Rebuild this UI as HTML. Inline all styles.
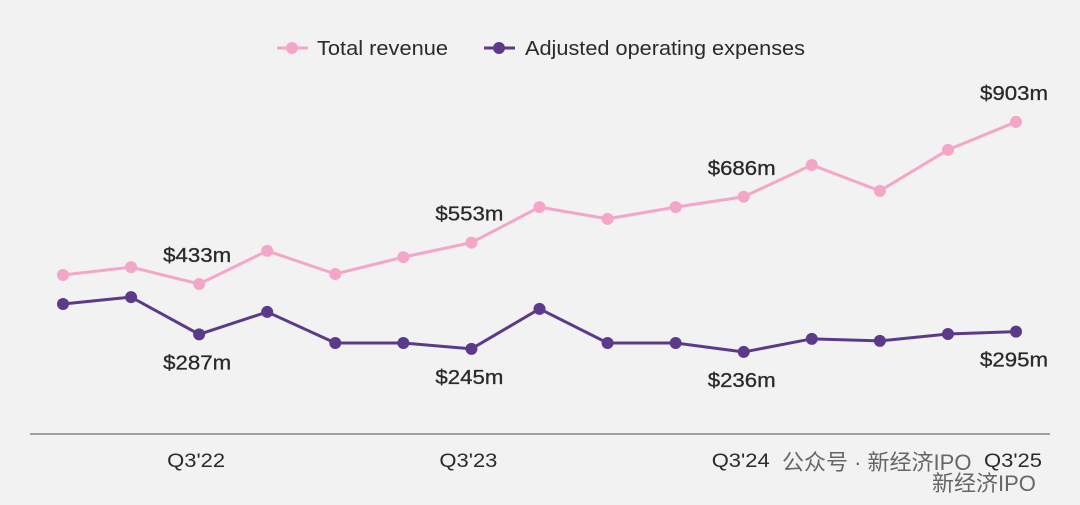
<!DOCTYPE html>
<html><head><meta charset="utf-8"><style>
body{margin:0;background:#f2f2f2;}
svg{display:block;font-family:"Liberation Sans","Noto Sans CJK SC",sans-serif;}
</style></head><body>
<svg id="chart" width="1080" height="505">
<rect width="1080" height="505" fill="#f2f2f2"/>
<g>
<g>
<line x1="277" y1="48" x2="308" y2="48" stroke="#f4a6c8" stroke-width="3"/><circle cx="292" cy="48" r="6" fill="#f4a6c8"/>
<text x="317" y="55" font-size="20" fill="#2a2a2a" textLength="131" lengthAdjust="spacingAndGlyphs">Total revenue</text></g>
<g>
<line x1="484" y1="48" x2="515" y2="48" stroke="#5b3a8a" stroke-width="3"/><circle cx="499" cy="48" r="6" fill="#5b3a8a"/>
<text x="525" y="55" font-size="20" fill="#2a2a2a" textLength="280" lengthAdjust="spacingAndGlyphs">Adjusted operating expenses</text></g>
</g>
<line x1="30" y1="434" x2="1050" y2="434" stroke="#a0a0a0" stroke-width="2"/>
<g id="marks"></g>
<text x="782" y="470" font-size="22" fill="#666">公众号 · 新经济IPO</text>
<text x="932" y="491" font-size="22" fill="#666">新经济IPO</text>
</svg>
<script>
const quarters=["Q1'22","Q2'22","Q3'22","Q4'22","Q1'23","Q2'23","Q3'23","Q4'23","Q1'24","Q2'24","Q3'24","Q4'24","Q1'25","Q2'25","Q3'25"];
const revenue=[459,482,433,529,462,511,553,656,622,656,686,778,703,822,903];
const opex=[375,395,287,352,262,262,245,361,262,262,236,274,268,288,295];
const tickLabels=["Q3'22","Q3'23","Q3'24","Q3'25"];
const revLabels={2:"$433m",6:"$553m",10:"$686m",14:"$903m"};
const opexLabels={2:"$287m",6:"$245m",10:"$236m",14:"$295m"};
const NS="http://www.w3.org/2000/svg";
const g=document.getElementById('marks');
function x(i){return 63+i*(1016-63)/(quarters.length-1);}
function y(v){return 284-(v-433)/2.9;}
function el(t,a){const e=document.createElementNS(NS,t);for(const k in a)e.setAttribute(k,a[k]);g.appendChild(e);return e;}
function series(vals,color,name,labels,above){
  const p=el('polyline',{points:vals.map((v,i)=>x(i)+','+y(v)).join(' '),fill:'none',stroke:color,'stroke-width':3});
  
  
  vals.forEach((v,i)=>{
    const c=el('circle',{cx:x(i),cy:y(v),r:6,fill:color});
    
    
    if(labels[i]){
      const t=el('text',{x:x(i)-2,y:above?y(v)-22:y(v)+35,'font-size':20,fill:'#2a2a2a','text-anchor':'middle',textLength:68,lengthAdjust:'spacingAndGlyphs',stroke:'#2a2a2a','stroke-width':0.3});
      t.textContent=labels[i];
      
      
    }
  });
}
series(revenue,'#f4a6c8','revenue',revLabels,true);
series(opex,'#5b3a8a','opex',opexLabels,false);
tickLabels.forEach(l=>{
  const i=quarters.indexOf(l);
  const t=el('text',{x:x(i)-3,y:467,'font-size':19,fill:'#2a2a2a','text-anchor':'middle',textLength:58,lengthAdjust:'spacingAndGlyphs'});
  t.textContent=l;
  
  
});
</script>
</body></html>
